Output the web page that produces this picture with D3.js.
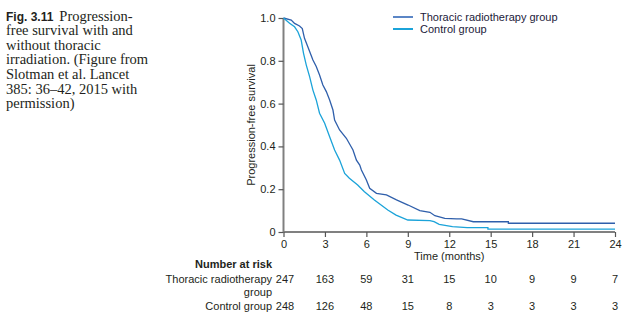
<!DOCTYPE html>
<html>
<head>
<meta charset="utf-8">
<script src="https://cdn.jsdelivr.net/npm/d3@7"></script>
<style>
  body { margin: 0; background: #fff; }
  svg { display: block; }
</style>
</head>
<body>
<svg id="chart" width="631" height="322"></svg>
<script>
// Progression-free survival (repeated months mark a step)
const thoracicMonths = [0, 0.56, 0.80, 1.16, 1.36, 1.52, 1.76, 2.13, 2.37, 2.61, 2.85, 3.10, 3.34, 3.58, 3.70, 4.06, 4.55, 5.03, 5.28, 5.52, 5.64, 6.0, 6.24, 6.73, 7.45, 8.18, 9.02, 9.87, 10.6, 10.96, 11.68, 12.53, 12.9, 13.74, 16.28, 16.28, 24];
const thoracicSurv = [1.0, 0.99, 0.975, 0.963, 0.951, 0.905, 0.866, 0.804, 0.773, 0.734, 0.687, 0.656, 0.617, 0.570, 0.523, 0.477, 0.438, 0.383, 0.336, 0.313, 0.29, 0.243, 0.204, 0.181, 0.173, 0.15, 0.126, 0.10, 0.092, 0.076, 0.064, 0.061, 0.061, 0.048, 0.048, 0.041, 0.041];

const controlMonths = [0, 0.44, 0.80, 1.04, 1.28, 1.45, 1.65, 1.89, 2.13, 2.37, 2.61, 2.98, 3.34, 3.70, 4.06, 4.43, 4.77, 5.37, 5.86, 6.58, 7.55, 8.15, 9.0, 10.6, 10.9, 11.27, 12.23, 13.3, 14.8, 14.8, 24];
const controlSurv = [1.0, 0.975, 0.959, 0.936, 0.897, 0.835, 0.780, 0.726, 0.663, 0.617, 0.555, 0.508, 0.445, 0.383, 0.336, 0.274, 0.251, 0.22, 0.188, 0.15, 0.103, 0.079, 0.056, 0.053, 0.048, 0.036, 0.025, 0.02, 0.02, 0.013, 0.013];

const xTicks = [0, 3, 6, 9, 12, 15, 18, 21, 24];
const yTicks = [0, 0.2, 0.4, 0.6, 0.8, 1.0];
const riskThoracic = [247, 163, 59, 31, 15, 10, 9, 9, 7];
const riskControl = [248, 126, 48, 15, 8, 3, 3, 3, 3];

const seriesNames = ["Thoracic radiotherapy group", "Control group"];
const seriesColors = ["#2f5fab", "#1ba3d9"];

const captionLines = ["Progression-", "free survival with and", "without thoracic", "irradiation. (Figure from", "Slotman et al. Lancet", "385: 36\u201342, 2015 with", "permission)"];

const svg = d3.select("#chart");
const sans = "'Liberation Sans', Arial, sans-serif";
const ink = "#231f20";

const x = d3.scaleLinear().domain([0, 24]).range([283.5, 615]);
const y = d3.scaleLinear().domain([0, 1]).range([232, 18]);

// --- caption ---
const cap = svg.append("g").attr("font-family", "'Liberation Serif', 'Times New Roman', serif")
    .attr("font-size", 14.5).attr("fill", ink);
captionLines.forEach((line, i) => {
    const t = cap.append("text").attr("x", 6).attr("y", 20.5 + i * 14.6);
    if (i === 0) {
        t.append("tspan").attr("font-family", sans).attr("font-weight", "bold")
            .attr("font-size", 12).text("Fig. 3.11");
        t.append("tspan").attr("dx", 6).text(line);
    } else {
        t.text(line);
    }
});

// --- axes ---
const axisColor = "#808080";
const gx = svg.append("g").attr("transform", `translate(0,${y(0)})`)
    .call(d3.axisBottom(x).tickValues(xTicks).tickSize(5).tickPadding(3).tickFormat(d3.format("d")));
const gy = svg.append("g").attr("transform", `translate(${x(0)},0)`)
    .call(d3.axisLeft(y).tickValues(yTicks).tickSize(5).tickPadding(3)
        .tickFormat(d => d === 0 ? "0" : d3.format(".1f")(d)));

[gx, gy].forEach(g => {
    g.select(".domain").attr("stroke", axisColor).attr("stroke-width", 2);
    g.selectAll(".tick line").attr("stroke", "#555").attr("stroke-width", 1.2);
    g.selectAll(".tick text").attr("font-family", sans).attr("font-size", 11).attr("fill", ink);
});
gx.select(".domain").attr("d", `M${x(0)},0H${x(24)}`);
gy.select(".domain").attr("d", `M0,${y(0)}V${y(1)}`);

svg.append("text")
    .attr("x", (x(0) + x(24)) / 2).attr("y", 260)
    .attr("text-anchor", "middle")
    .attr("font-family", sans).attr("font-size", 11).attr("fill", ink)
    .text("Time (months)");

svg.append("text")
    .attr("transform", `translate(254.5,${(y(0) + y(1)) / 2}) rotate(-90)`)
    .attr("text-anchor", "middle")
    .attr("font-family", sans).attr("font-size", 11).attr("fill", ink)
    .text("Progression-free survival");

// --- survival curves ---
const line = d3.line()
    .x(d => x(d[0]))
    .y(d => y(d[1]));

const curves = [
    d3.zip(thoracicMonths, thoracicSurv),
    d3.zip(controlMonths, controlSurv)
];

curves.forEach((pts, i) => {
    svg.append("path")
        .datum(pts)
        .attr("d", line)
        .attr("fill", "none")
        .attr("stroke", seriesColors[i])
        .attr("stroke-width", 1.3);
});

// --- legend ---
const legend = svg.append("g").attr("transform", "translate(393,17)");
seriesNames.forEach((name, i) => {
    const row = legend.append("g").attr("transform", `translate(0,${i * 12})`);
    row.append("line").attr("x1", 0).attr("x2", 20).attr("y1", 0).attr("y2", 0)
        .attr("stroke", i === 0 ? "#5b86c6" : seriesColors[1]).attr("stroke-width", 2);
    row.append("text").attr("x", 27).attr("y", 4)
        .attr("font-family", sans).attr("font-size", 11).attr("fill", "#1c1a3a")
        .text(name);
});

// --- number at risk table ---
const risk = svg.append("g").attr("font-family", sans).attr("font-size", 11).attr("fill", ink);
risk.append("text").attr("x", 272).attr("y", 268).attr("text-anchor", "end")
    .attr("font-weight", "bold").text("Number at risk");
risk.append("text").attr("x", 272).attr("y", 283).attr("text-anchor", "end").text("Thoracic radiotherapy");
risk.append("text").attr("x", 272).attr("y", 296).attr("text-anchor", "end").text("group");
risk.append("text").attr("x", 272).attr("y", 310).attr("text-anchor", "end").text("Control group");

[[riskThoracic, 283], [riskControl, 310]].forEach(([vals, yy]) => {
    risk.selectAll(null).data(vals).enter().append("text")
        .attr("x", (d, i) => x(xTicks[i]) + (i === 0 ? 1.5 : 0))
        .attr("y", yy)
        .attr("text-anchor", "middle")
        .text(d => d);
});
</script>
</body>
</html>
